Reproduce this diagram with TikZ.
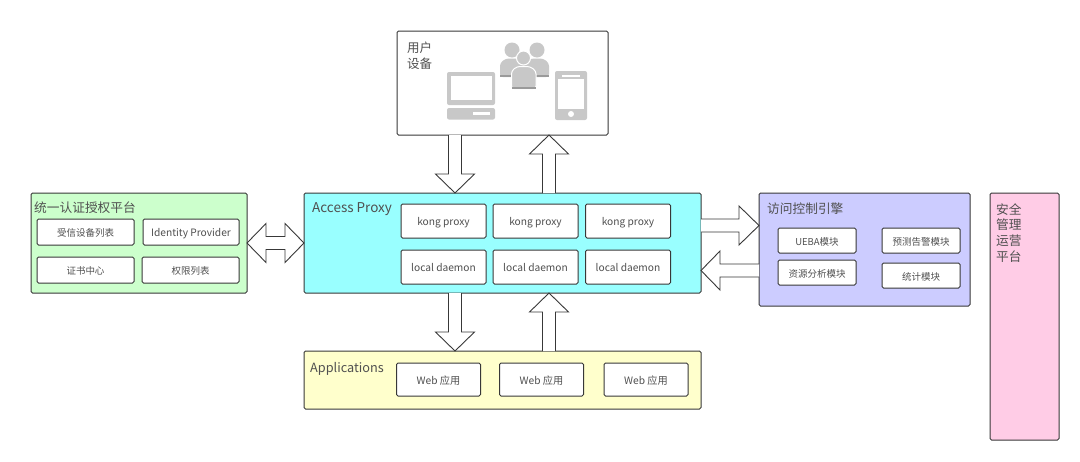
\documentclass[tikz,border=0pt]{standalone}
\usepackage{fontspec}
\setmainfont{Noto Sans CJK SC}
\usepackage{xcolor}
\usetikzlibrary{calc}
\definecolor{mygreen}{HTML}{CCFFCC}
\definecolor{mycyan}{HTML}{99FFFF}
\definecolor{myviolet}{HTML}{CCCCFF}
\definecolor{mypink}{HTML}{FFCCE6}
\definecolor{myyellow}{HTML}{FFFFCC}
\definecolor{myline}{HTML}{383838}
\definecolor{mytext}{HTML}{505050}
\definecolor{myicon}{HTML}{C8C8C8}
\definecolor{myband}{HTML}{9A9A9A}
\tikzset{
  panel/.style={draw=myline, line width=1pt, rounded corners=1.5pt, inner sep=0pt, outer sep=0pt},
  item/.style={panel, fill=white, text=mytext, text height=10, text depth=1, font=\fontsize{9.5}{11}\selectfont},
  latinitem/.style={item, font=\fontsize{10.2}{11}\selectfont},
  title/.style={anchor=west, inner sep=0pt, text=mytext, font=\fontsize{12.7}{15}\selectfont},
  hollow/.style={draw=myline, line width=0.9pt, fill=white, line join=miter}
}
\newcommand{\blockarrow}[3]{
  \coordinate (ba) at (#1);
  \coordinate (bb) at (#2);
  \coordinate (bh) at ($(bb)!#3pt!(ba)$);
  \draw[hollow] ($(ba)!6.5pt!90:(bb)$) -- ($(bh)!6.5pt!-90:(ba)$) -- ($(bh)!19.5pt!-90:(ba)$) -- (bb)
    -- ($(bh)!19.5pt!90:(ba)$) -- ($(bh)!6.5pt!90:(ba)$) -- ($(ba)!6.5pt!-90:(bb)$);
}
\begin{document}
\begin{tikzpicture}[x=1pt, y=-1pt]
    \useasboundingbox (0,0) rectangle (1080,461);

    \node[panel, fill=white, minimum width=211, minimum height=104] (user) at (502.5,83) {};
    \node[panel, fill=mygreen, minimum width=216, minimum height=100] (auth) at (139,243) {};
    \node[panel, fill=mycyan, minimum width=397, minimum height=100] (proxy) at (502.5,243) {};
    \node[panel, fill=myviolet, minimum width=211, minimum height=113] (engine) at (864.5,249.5) {};
    \node[panel, fill=mypink, minimum width=69, minimum height=247] (ops) at (1024.5,316.5) {};
    \node[panel, fill=myyellow, minimum width=397, minimum height=58] (apps) at (502.5,380) {};

    \node[title, align=left, font=\fontsize{12.5}{16}\selectfont] (usertitle) at (407,56) {用户\\设备};
    \node[title] (authtitle) at (34,207.5) {统一认证授权平台};
    \node[title, font=\fontsize{13.5}{15}\selectfont] (proxytitle) at (312,209) {Access Proxy};
    \node[title] (enginetitle) at (767,208.5) {访问控制引擎};
    \node[title, anchor=north west, align=left, font=\fontsize{12.7}{15.8}\selectfont] (opstitle) at (996,203) {安全\\管理\\运营\\平台};
    \node[title] (appstitle) at (310,368.5) {Applications};

    \node[item, minimum width=97, minimum height=26] (trusted) at (85.5,232) {受信设备列表};
    \node[latinitem, minimum width=96, minimum height=26] (idp) at (191,232) {Identity Provider};
    \node[item, minimum width=97, minimum height=26] (cert) at (85.5,270) {证书中心};
    \node[item, minimum width=97, minimum height=26] (perm) at (190.5,270) {权限列表};

    \foreach \col/\xpos in {1/443.5, 2/535.5, 3/628} {
      \node[latinitem, minimum width=85, minimum height=34] (kong\col) at (\xpos,221) {kong proxy};
      \node[latinitem, minimum width=85, minimum height=34] (daemon\col) at (\xpos,267) {local daemon};
    }
    \foreach \col/\xpos in {1/438.5, 2/541.5, 3/646} {
      \node[latinitem, minimum width=84, minimum height=33] (web\col) at (\xpos,379.5) {Web 应用};
    }

    \node[item, minimum width=78, minimum height=25] (ueba) at (817,240.5) {UEBA模块};
    \node[item, minimum width=78, minimum height=25] (predict) at (921,240.5) {预测告警模块};
    \node[item, minimum width=78, minimum height=25] (resource) at (817,272.5) {资源分析模块};
    \node[item, minimum width=78, minimum height=25] (stats) at (921,275.5) {统计模块};

    \coordinate (colone) at (455,0);
    \coordinate (coltwo) at (549,0);
    \coordinate (rowone) at (0,225.5);
    \coordinate (rowtwo) at (0,270.5);
    \blockarrow{colone |- user.south}{colone |- proxy.north}{19}
    \blockarrow{coltwo |- proxy.north}{coltwo |- user.south}{19}
    \blockarrow{colone |- proxy.south}{colone |- apps.north}{19}
    \blockarrow{coltwo |- apps.north}{coltwo |- proxy.south}{19}
    \blockarrow{proxy.east |- rowone}{engine.west |- rowone}{20}
    \blockarrow{engine.west |- rowtwo}{proxy.east |- rowtwo}{19}

    \coordinate (hl) at ($(auth.east)+(19,0)$);
    \coordinate (hr) at ($(proxy.west)+(-19,0)$);
    \draw[hollow] (auth.east) -- ($(hl)+(0,-19.5)$) -- ($(hl)+(0,-6.5)$) -- ($(hr)+(0,-6.5)$) -- ($(hr)+(0,-19.5)$) -- (proxy.west)
      -- ($(hr)+(0,19.5)$) -- ($(hr)+(0,6.5)$) -- ($(hl)+(0,6.5)$) -- ($(hl)+(0,19.5)$) -- cycle;

    \fill[myicon, rounded corners=2pt] (447,72) rectangle (495,105);
    \fill[white] (451,75.5) rectangle (491.5,100);
    \fill[myicon, rounded corners=2pt] (447,108) rectangle (495,119.5);
    \fill[white] (473,112) rectangle (490,114.5);

    \fill[myicon, rounded corners=2pt] (555,71) rectangle (587,120);
    \fill[white] (558,79) rectangle (584,109);
    \fill[white] (562,75) rectangle (580,77);
    \fill[white] (571,114) circle (3);

    \fill[myicon] (512,50) circle (7.5);
    \fill[myicon] (537,50) circle (7.5);
    \fill[myicon, rounded corners=3pt] (500,77) -- (500,63) -- (506,58.5) -- (518,58.5) -- (526,63) -- (526,77) -- cycle;
    \fill[myicon, rounded corners=3pt] (524,77) -- (524,63) -- (531,58.5) -- (543,58.5) -- (549,63) -- (549,77) -- cycle;
    \fill[myband] (500,75) rectangle (549,77);
    \fill[myicon, draw=white, line width=1pt] (523.5,58) circle (7);
    \fill[myicon, draw=white, line width=1pt, rounded corners=3pt] (511.5,89) -- (511.5,71) -- (517,66.5) -- (530,66.5) -- (536,71) -- (536,89) -- cycle;
    \fill[myband] (512,86.5) rectangle (535.5,88.5);
\end{tikzpicture}
\end{document}
